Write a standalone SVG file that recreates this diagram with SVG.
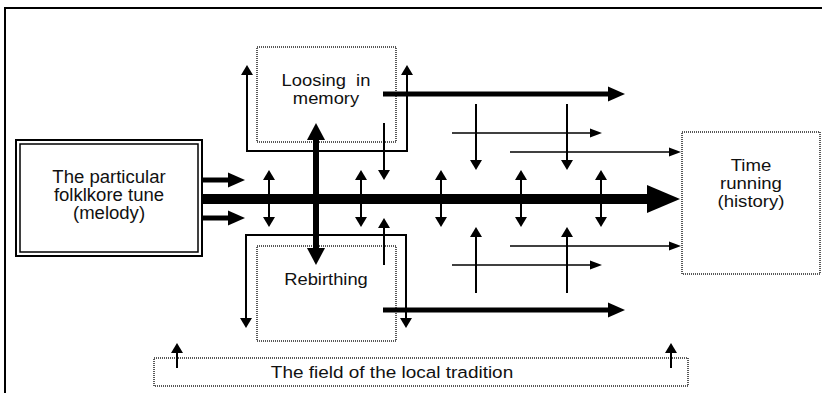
<svg xmlns="http://www.w3.org/2000/svg" width="822" height="393" viewBox="0 0 822 393">
  <style>
    .lbl { font-family: "Liberation Sans", Arial, sans-serif; fill: #111; text-anchor: middle; }
    .f175 { font-size: 17.5px; }
    .f17 { font-size: 17px; }
    .f165 { font-size: 16.5px; }
    .f16 { font-size: 16px; }
    .dot { fill: none; stroke: #222; stroke-width: 1.5; stroke-dasharray: 1 1; }
    .ln { fill: none; stroke: #000; }
  </style>
  <defs>
    <!-- arrowheads: base sits at the line end, tip points along the path -->
    <marker id="hL" markerUnits="userSpaceOnUse" markerWidth="34" markerHeight="30" refX="0" refY="15" orient="auto-start-reverse" viewBox="0 0 34 30">
      <path d="M0,1 L33,15 L0,29 Z" fill="#000"/>
    </marker>
    <marker id="hM" markerUnits="userSpaceOnUse" markerWidth="18" markerHeight="16" refX="0" refY="8" orient="auto-start-reverse" viewBox="0 0 18 16">
      <path d="M0,0.5 L17,8 L0,15.5 Z" fill="#000"/>
    </marker>
    <marker id="hV" markerUnits="userSpaceOnUse" markerWidth="18" markerHeight="20" refX="0" refY="10" orient="auto-start-reverse" viewBox="0 0 18 20">
      <path d="M0,1 L17,10 L0,19 Z" fill="#000"/>
    </marker>
    <marker id="hS" markerUnits="userSpaceOnUse" markerWidth="11" markerHeight="12" refX="0" refY="6" orient="auto-start-reverse" viewBox="0 0 11 12">
      <path d="M0,0 L10,6 L0,12 Z" fill="#000"/>
    </marker>
    <marker id="hT" markerUnits="userSpaceOnUse" markerWidth="13" markerHeight="10" refX="0" refY="5" orient="auto-start-reverse" viewBox="0 0 13 10">
      <path d="M0,0.5 L12,5 L0,9.5 Z" fill="#000"/>
    </marker>
  </defs>

  <rect x="0" y="0" width="822" height="393" fill="#fff"/>
  <!-- outer frame -->
  <path class="ln" d="M5,393 V8 H822" stroke-width="2"/>

  <g id="tune">
    <rect x="16" y="140" width="186" height="116" fill="#fff" stroke="#000" stroke-width="2"/>
    <rect x="20" y="144" width="178" height="108" fill="none" stroke="#000" stroke-width="1.5"/>
    <g class="lbl f175" transform="translate(109,0) scale(1.06,1)">
      <text x="0" y="183">The particular</text>
      <text x="0" y="201">folklkore tune</text>
      <text x="0" y="219">(melody)</text>
    </g>
  </g>

  <g id="loosing">
    <rect class="dot" x="257" y="47" width="139" height="95"/>
    <g class="lbl f17" transform="translate(326,0) scale(1.08,1)">
      <text x="0" y="86" style="white-space:pre">Loosing  in</text>
      <text x="0" y="104">memory</text>
    </g>
  </g>

  <g id="rebirthing">
    <rect class="dot" x="257" y="246" width="139" height="95"/>
    <text class="lbl f17" transform="translate(326,0) scale(1.08,1)" x="0" y="285">Rebirthing</text>
  </g>

  <g id="time">
    <rect class="dot" x="682" y="132" width="138" height="142"/>
    <g class="lbl f16" transform="translate(751,0) scale(1.16,1)">
      <text x="0" y="171">Time</text>
      <text x="0" y="189">running</text>
      <text x="0" y="207">(history)</text>
    </g>
  </g>

  <g id="field">
    <rect class="dot" x="154" y="358" width="534" height="28"/>
    <text class="lbl f165" transform="translate(392,0) scale(1.15,1)" x="0" y="378">The field of the local tradition</text>
  </g>

  <g id="connectors" class="ln">
    <!-- main time axis -->
    <path d="M202,199 H647" stroke-width="10" marker-end="url(#hL)"/>
    <!-- outputs of the tune -->
    <path d="M202,180 H228" stroke-width="5" marker-end="url(#hM)"/>
    <path d="M202,218 H228" stroke-width="5" marker-end="url(#hM)"/>
    <!-- exchange arrows across the axis -->
    <path d="M269,180 V217" stroke-width="2" marker-start="url(#hS)" marker-end="url(#hS)"/>
    <path d="M361,180 V217" stroke-width="2" marker-start="url(#hS)" marker-end="url(#hS)"/>
    <path d="M441,180 V217" stroke-width="2" marker-start="url(#hS)" marker-end="url(#hS)"/>
    <path d="M521,180 V217" stroke-width="2" marker-start="url(#hS)" marker-end="url(#hS)"/>
    <path d="M601,180 V217" stroke-width="2" marker-start="url(#hS)" marker-end="url(#hS)"/>
    <!-- loss / rebirth link -->
    <path d="M316,140 V248" stroke-width="6" marker-start="url(#hV)" marker-end="url(#hV)"/>
    <!-- brackets -->
    <path d="M247,75 V151 H407 V75" stroke-width="2" marker-start="url(#hS)" marker-end="url(#hS)"/>
    <path d="M246,318 V235 H406 V318" stroke-width="2" marker-start="url(#hS)" marker-end="url(#hS)"/>
    <path d="M384,123 V170" stroke-width="2" marker-end="url(#hS)"/>
    <path d="M384,265 V228" stroke-width="2" marker-end="url(#hS)"/>
    <!-- thick side flows -->
    <path d="M383,94 H608" stroke-width="5" marker-end="url(#hM)"/>
    <path d="M383,310 H608" stroke-width="5" marker-end="url(#hM)"/>
    <!-- thin side flows -->
    <path d="M452,133 H590" stroke-width="1.5" marker-end="url(#hT)"/>
    <path d="M510,152 H669" stroke-width="1.5" marker-end="url(#hT)"/>
    <path d="M510,246 H669" stroke-width="1.5" marker-end="url(#hT)"/>
    <path d="M452,265 H590" stroke-width="1.5" marker-end="url(#hT)"/>
    <path d="M476,104 V160" stroke-width="2" marker-end="url(#hS)"/>
    <path d="M567,104 V160" stroke-width="2" marker-end="url(#hS)"/>
    <path d="M476,293 V237" stroke-width="2" marker-end="url(#hS)"/>
    <path d="M567,293 V237" stroke-width="2" marker-end="url(#hS)"/>
    <!-- rising from the local tradition -->
    <path d="M177,368 V353" stroke-width="2" marker-end="url(#hS)"/>
    <path d="M671,368 V353" stroke-width="2" marker-end="url(#hS)"/>
  </g>
</svg>
